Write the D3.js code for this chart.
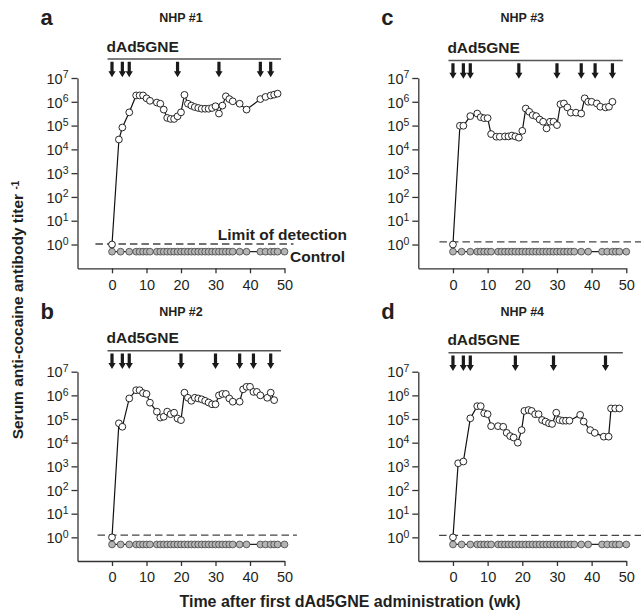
<!DOCTYPE html>
<html>
<head>
<meta charset="utf-8">
<script src="https://cdn.jsdelivr.net/npm/d3@7"></script>
<style>
  body { margin: 0; background: #fff; }
  svg { font-family: "Liberation Sans", Arial, Helvetica, sans-serif; }
</style>
</head>
<body>
<svg class="canvas"></svg>
<script>
// control group (same schedule in every panel), titer plotted below the limit of detection
const controlWeeks = [0, 2.5, 5, 7, 8, 9, 10, 11, 13, 14, 15, 16, 17, 18, 19, 20, 21, 22, 23, 24, 25, 26, 27,
    28, 29, 30, 31, 32, 33, 34, 35, 37, 39, 43, 44.5, 46, 47, 48, 50];
const controlTiter = 0.5;

// NHP #1
const weeks1 = [0, 2, 3, 5, 7, 8, 9, 10, 11, 13, 14, 15, 16, 17, 18, 19, 20, 21, 22, 23, 24, 25, 26, 27, 28,
    29, 30, 31, 32, 33, 34, 35, 37, 39, 43, 44.5, 46, 47, 48];
const titers1 = [1, 2.6e4, 8.3e4, 3.6e5, 1.85e6, 1.85e6, 1.85e6, 1.4e6, 1.1e6, 9.3e5, 8.3e5, 4.7e5, 2.1e5,
    1.9e5, 1.9e5, 2.45e5, 3.6e5, 1.95e6, 8.3e5, 6.9e5, 6.0e5, 5.5e5, 5.1e5, 5.1e5, 5.1e5, 5.5e5, 6.5e5,
    3.2e5, 6.9e5, 1.7e6, 1.3e6, 1.05e6, 8.3e5, 4.7e5, 1.3e6, 1.6e6, 1.85e6, 2.0e6, 2.2e6];
const doses1 = [0, 3, 5, 19, 31, 43, 46];

// NHP #2
const weeks2 = [0, 2, 3, 5, 7, 8, 9, 10, 11, 13, 14, 15, 16, 17, 18, 19, 20, 21, 22, 23, 24, 25, 26, 27, 28,
    29, 30, 31, 32, 33, 34, 35, 37, 38, 39, 40, 41, 42, 43, 45, 46, 47];
const titers2 = [1, 6.6e4, 4.7e4, 7.4e5, 1.65e6, 1.65e6, 1.25e6, 1.15e6, 4.9e5, 2.05e5, 1.15e5, 1.25e5,
    2.05e5, 1.6e5, 1.85e5, 1.05e5, 9.0e4, 1.3e6, 7.9e5, 5.9e5, 7.9e5, 7.4e5, 6.8e5, 5.9e5, 5.0e5, 4.2e5,
    4.2e5, 1.0e6, 1.15e6, 1.15e6, 7.4e5, 5.4e5, 5.4e5, 1.8e6, 2.3e6, 2.3e6, 1.4e6, 1.4e6, 1.0e6, 7.9e5,
    1.3e6, 6.3e5];
const doses2 = [0, 3, 5, 20, 30, 37, 41, 46];

// NHP #3
const weeks3 = [0, 2, 3, 5, 7, 8, 9, 10, 11, 12.5, 13.5, 15, 16, 17, 18, 19, 20, 21, 22, 23, 24, 25, 26, 27,
    28, 29, 30, 31, 32, 33, 34, 35.5, 37, 38, 39, 40, 41.5, 42.5, 44, 45, 46];
const titers3 = [1, 9.8e4, 9.8e4, 2.5e5, 3.2e5, 2.25e5, 2.05e5, 2.05e5, 4.4e4, 3.4e4, 3.4e4, 3.5e4, 3.5e4,
    3.8e4, 3.5e4, 3.1e4, 6.0e4, 5.2e5, 3.8e5, 2.75e5, 2.5e5, 1.8e5, 1.45e5, 7.6e4, 1.45e5, 1.45e5, 1.05e5,
    7.9e5, 8.5e5, 5.8e5, 3.5e5, 3.5e5, 3.2e5, 1.4e6, 1.0e6, 1.0e6, 8.5e5, 6.2e5, 5.8e5, 6.2e5, 1.0e6];
const doses3 = [0, 3, 5, 19, 30, 37, 41, 46];

// NHP #4
const weeks4 = [0, 1.5, 3, 5, 7, 8, 9, 10, 11, 13, 14.5, 15.5, 16.5, 17.5, 18.7, 19.8, 20.6, 21.8, 22.7, 23.7,
    24.7, 25.7, 26.7, 27.7, 28.6, 29.8, 30.7, 31.7, 32.6, 33.6, 36.7, 37.7, 39.6, 40.9, 43.5, 44.9, 45.6,
    46.8, 48];
const titers4 = [1, 1.35e3, 1.6e3, 1.07e5, 3.5e5, 3.5e5, 1.75e5, 1.6e5, 5.0e4, 5.0e4, 4.7e4, 2.6e4, 1.9e4,
    1.65e4, 1.0e4, 3.4e4, 2.2e5, 2.4e5, 2.2e5, 1.6e5, 1.6e5, 9.1e4, 7.8e4, 6.6e4, 6.2e4, 1.85e5, 9.1e4,
    8.5e4, 8.5e4, 8.5e4, 1.5e5, 7.8e4, 3.4e4, 2.6e4, 1.8e4, 1.8e4, 2.8e5, 2.8e5, 2.8e5];
const doses4 = [0, 3, 5, 18, 29, 44];

const lodTiters = [1.05, 1.25, 1.3, 1.2];

const xTicks = [0, 10, 20, 30, 40, 50];
const yTicks = [1, 10, 100, 1e3, 1e4, 1e5, 1e6, 1e7];

const w = 641;
const h = 613;

const svg = d3.select("svg.canvas")
    .attr("width", w)
    .attr("height", h);

// layout of the four panels
const panels = [
    {letter: "a", title: "NHP #1", weeks: weeks1, titers: titers1, doses: doses1, lod: lodTiters[0],
        xr: [77.5, 284.5], yr: [268.3, 78], barOff: 19, textDy: 0, lodX: [-4.8, 52.6]},
    {letter: "b", title: "NHP #2", weeks: weeks2, titers: titers2, doses: doses2, lod: lodTiters[1],
        xr: [77.5, 284.5], yr: [561, 371.7], barOff: 21, textDy: 294, lodX: [-4.2, 53.6]},
    {letter: "c", title: "NHP #3", weeks: weeks3, titers: titers3, doses: doses3, lod: lodTiters[2],
        xr: [418.3, 626.3], yr: [268.3, 78], barOff: 17.5, textDy: 0, lodX: [-3.9, 58]},
    {letter: "d", title: "NHP #4", weeks: weeks4, titers: titers4, doses: doses4, lod: lodTiters[3],
        xr: [418.3, 626.3], yr: [561, 371.7], barOff: 19, textDy: 294, lodX: [-4, 58]}
];

let drawPanel = (p) => {
    const x = d3.scaleLinear().domain([-10, 50]).range(p.xr);
    const y = d3.scaleLog().domain([0.1, 1e7]).range(p.yr);
    const g = svg.append("g");

    // axes
    const xAxis = d3.axisBottom(x).tickValues(xTicks).tickSize(5).tickSizeOuter(0).tickPadding(6);
    const yAxis = d3.axisLeft(y).tickValues(yTicks).tickSize(6).tickSizeOuter(0).tickPadding(3)
        .tickFormat(() => "10");

    const gx = g.append("g")
        .attr("transform", "translate(0," + p.yr[0] + ")")
        .call(xAxis);
    const gy = g.append("g")
        .attr("transform", "translate(" + p.xr[0] + ",0)")
        .call(yAxis);

    [gx, gy].forEach(a => {
        a.select(".domain").attr("stroke", "#333").attr("stroke-width", 1.3);
        a.selectAll(".tick line").attr("stroke", "#333").attr("stroke-width", 1.3);
        a.selectAll("text").attr("fill", "#231f20").style("font-size", "14.5px")
            .style("font-family", "'Liberation Sans', Arial, sans-serif");
    });

    gy.selectAll(".tick text")
        .attr("dy", "0.36em")
        .append("tspan")
        .attr("dy", "-0.5em")
        .style("font-size", "10.5px")
        .text(d => Math.round(Math.log10(d)));

    // control group
    const line = d3.line().x(d => x(d[0])).y(d => y(d[1]));
    const ctrl = controlWeeks.map(wk => [wk, controlTiter]);
    g.append("path")
        .datum(ctrl)
        .attr("d", line)
        .attr("fill", "none")
        .attr("stroke", "#222")
        .attr("stroke-width", 1.2);
    g.selectAll(".ctrl")
        .data(ctrl)
        .enter()
        .append("circle")
        .attr("class", "ctrl")
        .attr("cx", d => x(d[0]))
        .attr("cy", d => y(d[1]))
        .attr("r", 3.4)
        .attr("fill", "#b4b4b4")
        .attr("stroke", "#444")
        .attr("stroke-width", 0.8);

    // limit of detection
    g.append("line")
        .attr("x1", x(p.lodX[0]))
        .attr("x2", x(p.lodX[1]))
        .attr("y1", y(p.lod))
        .attr("y2", y(p.lod))
        .attr("stroke", "#444")
        .attr("stroke-width", 1.3)
        .attr("stroke-dasharray", "7.5,4");

    // immunised animal
    const vals = p.weeks.map((wk, i) => [wk, p.titers[i]]);
    g.append("path")
        .datum(vals)
        .attr("d", line)
        .attr("fill", "none")
        .attr("stroke", "#111")
        .attr("stroke-width", 1.2);
    g.selectAll(".nhp")
        .data(vals)
        .enter()
        .append("circle")
        .attr("class", "nhp")
        .attr("cx", d => x(d[0]))
        .attr("cy", d => y(d[1]))
        .attr("r", 3.4)
        .attr("fill", "#fff")
        .attr("stroke", "#111")
        .attr("stroke-width", 0.9);

    // dosing bar and arrows
    const barY = y(1e7) - p.barOff;
    g.append("line")
        .attr("x1", x(-1.3))
        .attr("x2", x(49))
        .attr("y1", barY)
        .attr("y2", barY)
        .attr("stroke", "#555")
        .attr("stroke-width", 1.5);
    g.append("text")
        .attr("x", x(-1.6))
        .attr("y", barY - 7.4)
        .style("font-size", "15.5px")
        .style("font-weight", "bold")
        .attr("fill", "#231f20")
        .text("dAd5GNE");
    g.selectAll(".arrow")
        .data(p.doses)
        .enter()
        .append("path")
        .attr("class", "arrow")
        .attr("transform", d => "translate(" + x(d) + "," + (barY + 2.8) + ")")
        .attr("d", "M-1.6,0H1.6V9.5H3.6L0,15.5L-3.6,9.5H-1.6Z")
        .attr("fill", "#1a1a1a");

    // panel letter and title
    g.append("text")
        .attr("x", p.xr[0] - 37)
        .attr("y", 25 + p.textDy)
        .style("font-size", "22px")
        .style("font-weight", "bold")
        .attr("fill", "#231f20")
        .text(p.letter);
    g.append("text")
        .attr("x", x(20))
        .attr("y", 22 + p.textDy)
        .attr("text-anchor", "middle")
        .style("font-size", "12.5px")
        .style("font-weight", "bold")
        .attr("fill", "#231f20")
        .text(p.title);

    return {x, y};
};

const scalesA = drawPanel(panels[0]);
panels.slice(1).forEach(drawPanel);

// labels for the first panel
svg.append("text")
    .attr("x", 347)
    .attr("y", scalesA.y(panels[0].lod) - 4.5)
    .attr("text-anchor", "end")
    .style("font-size", "15.5px")
    .style("font-weight", "bold")
    .attr("fill", "#231f20")
    .text("Limit of detection");
svg.append("text")
    .attr("x", 290)
    .attr("y", scalesA.y(controlTiter) + 10.5)
    .style("font-size", "15.5px")
    .style("font-weight", "bold")
    .attr("fill", "#231f20")
    .text("Control");

// axis titles
svg.append("text")
    .attr("x", 350)
    .attr("y", 606.5)
    .attr("text-anchor", "middle")
    .style("font-size", "16px")
    .style("font-weight", "bold")
    .attr("fill", "#231f20")
    .text("Time after first dAd5GNE administration (wk)");

const yTitle = svg.append("text")
    .attr("transform", "translate(23,310) rotate(-90)")
    .attr("text-anchor", "middle")
    .style("font-size", "15.5px")
    .style("font-weight", "bold")
    .attr("fill", "#231f20");
yTitle.append("tspan").text("Serum anti-cocaine antibody titer ");
yTitle.append("tspan").attr("dy", "-0.45em").style("font-size", "10px").text("-1");
</script>
</body>
</html>
